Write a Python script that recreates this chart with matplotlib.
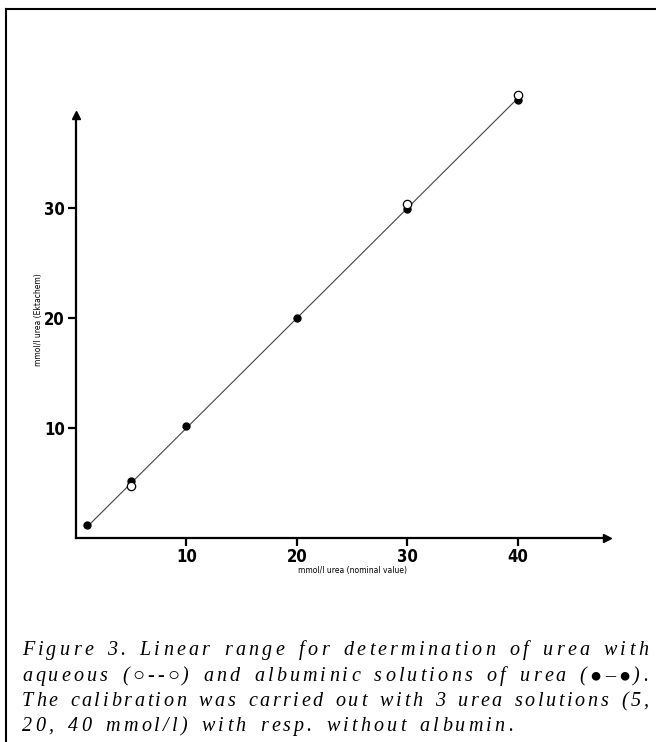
import matplotlib
matplotlib.use("Agg")
import matplotlib.pyplot as plt
from matplotlib.lines import Line2D

# nominal urea concentration (mmol/l) and Ektachem readings
aqueous_x = [5, 30, 40]
aqueous_y = [4.7, 30.3, 40.2]
albumin_x = [1, 5, 10, 20, 30, 40]
albumin_y = [1.2, 5.2, 10.2, 20.0, 29.9, 39.8]
fit_x = [1, 40]
fit_y = [1.0, 39.9]
xticks = [10, 20, 30, 40]
yticks = [10, 20, 30]

caption_lines = [
    "Figure 3. Linear range for determination of urea with",
    "aqueous (\u25cb--\u25cb) and albuminic solutions of urea (\u25cf\u2013\u25cf).",
    "The calibration was carried out with 3 urea solutions (5,",
    "20, 40 mmol/l) with resp. without albumin.",
]

W, H = 656, 742
fig = plt.figure(figsize=(W / 100, H / 100), dpi=100)

# axes placed in pixel terms: origin at (76, 538), arrows end at x=607 / y=115
ax = fig.add_axes([76 / W, (H - 538) / H, (607 - 76) / W, (538 - 115) / H])
ax.set_xlim(0, 48.1)
ax.set_ylim(0, 38.4)
for s in ("top", "right"):
    ax.spines[s].set_visible(False)
for s in ("left", "bottom"):
    ax.spines[s].set_linewidth(1.6)
ax.plot(1, 0, ">k", ms=6, transform=ax.get_yaxis_transform(), clip_on=False)
ax.plot(0, 1, "^k", ms=6, transform=ax.get_xaxis_transform(), clip_on=False)

ax.plot(fit_x, fit_y, color="#444444", lw=0.8, zorder=2, clip_on=False)
ax.plot(albumin_x, albumin_y, "o", color="black", ms=5, zorder=3, clip_on=False)
ax.plot(aqueous_x, aqueous_y, "o", mfc="white", mec="black", mew=0.9, ms=6,
        zorder=4, clip_on=False)

tick_font = dict(family="DejaVu Sans", stretch="condensed", weight="bold", size=12)
ax.set_xticks(xticks)
ax.set_yticks(yticks)
ax.set_xticklabels([str(t) for t in xticks], **tick_font)
ax.set_yticklabels([str(t) for t in yticks], **tick_font)
ax.tick_params(axis="both", length=6, width=1.6, pad=2)
ax.tick_params(axis="x", pad=1)

fig.text(353 / W, 1 - 571 / H, "mmol/l urea (nominal value)", fontsize=5.5,
         ha="center", va="center")
fig.text(38 / W, 1 - 320 / H, "mmol/l urea (Ektachem)", fontsize=5.5,
         ha="center", va="center", rotation=90)

# page frame: top and left rules
fig.add_artist(Line2D([6 / W, 1], [1 - 9 / H, 1 - 9 / H], color="black", lw=1.5))
fig.add_artist(Line2D([6 / W, 6 / W], [0, 1 - 9 / H], color="black", lw=1.5))

# italic caption, letter-spaced; first three lines justified to the right edge
cap_font = dict(family="Liberation Serif", style="italic", size=14.5)
left = 22
line_ends = [648, 648, 648, 513]
baselines = [655, 681, 706, 731]
renderer = fig.canvas.get_renderer()


def text_width(s):
    t = fig.text(0, 0, s + "|", **cap_font)
    bar = fig.text(0, 0, "|", **cap_font)
    w = t.get_window_extent(renderer).width - bar.get_window_extent(renderer).width
    t.remove()
    bar.remove()
    return w


for line, yb, right in zip(caption_lines, baselines, line_ends):
    y = 1 - yb / H
    starts = [text_width(line[:k]) for k in range(len(line))]
    natural = text_width(line)
    weights = [2 if c == " " else 1 for c in line[:-1]]
    extra = (right - left - natural) / sum(weights)
    shift = 0.0
    for k, c in enumerate(line):
        if c != " ":
            fig.text((left + starts[k] + shift) / W, y, c, ha="left",
                     va="baseline", **cap_font)
        if k < len(weights):
            shift += extra * weights[k]

fig.savefig("out.png", dpi=100)
